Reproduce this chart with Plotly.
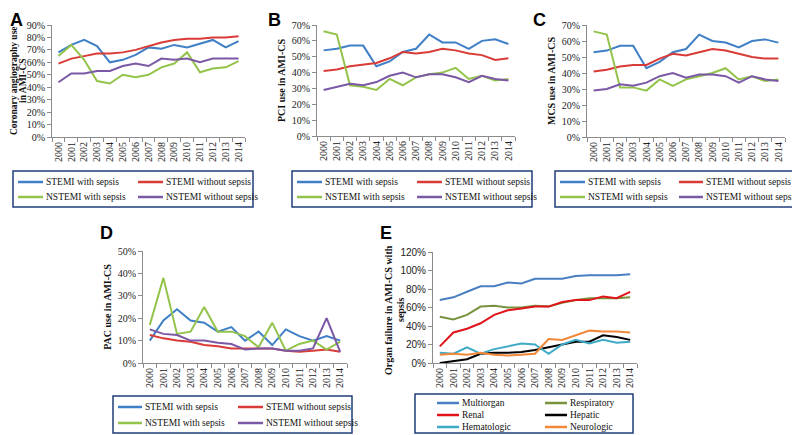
import plotly.graph_objects as go

years = [str(y) for y in range(2000, 2015)]

# A - coronary angiography
a_stemi_sep = [0.68, 0.74, 0.78, 0.73, 0.60, 0.62, 0.66, 0.72, 0.71, 0.74, 0.72, 0.75, 0.78, 0.72, 0.77]
a_stemi_nosep = [0.59, 0.63, 0.65, 0.67, 0.67, 0.68, 0.70, 0.73, 0.76, 0.78, 0.79, 0.79, 0.80, 0.80, 0.81]
a_nstemi_sep = [0.65, 0.74, 0.62, 0.45, 0.43, 0.50, 0.48, 0.50, 0.56, 0.59, 0.68, 0.52, 0.55, 0.56, 0.61]
a_nstemi_nosep = [0.44, 0.51, 0.51, 0.53, 0.53, 0.57, 0.59, 0.57, 0.63, 0.62, 0.63, 0.60, 0.63, 0.63, 0.63]

# B - PCI
b_stemi_sep = [0.54, 0.55, 0.57, 0.57, 0.44, 0.47, 0.53, 0.55, 0.64, 0.59, 0.59, 0.55, 0.60, 0.61, 0.58]
b_stemi_nosep = [0.41, 0.42, 0.44, 0.45, 0.46, 0.49, 0.53, 0.52, 0.53, 0.55, 0.54, 0.52, 0.51, 0.48, 0.49]
b_nstemi_sep = [0.66, 0.64, 0.32, 0.31, 0.29, 0.36, 0.32, 0.37, 0.39, 0.40, 0.43, 0.36, 0.38, 0.35, 0.36]
b_nstemi_nosep = [0.29, 0.31, 0.33, 0.32, 0.34, 0.38, 0.40, 0.37, 0.39, 0.39, 0.37, 0.34, 0.38, 0.36, 0.35]

# C - MCS
c_stemi_sep = [0.53, 0.54, 0.57, 0.57, 0.43, 0.47, 0.53, 0.55, 0.64, 0.60, 0.59, 0.56, 0.60, 0.61, 0.59]
c_stemi_nosep = [0.41, 0.42, 0.44, 0.45, 0.45, 0.49, 0.52, 0.51, 0.53, 0.55, 0.54, 0.52, 0.50, 0.49, 0.49]
c_nstemi_sep = [0.66, 0.64, 0.31, 0.31, 0.29, 0.36, 0.32, 0.36, 0.38, 0.40, 0.43, 0.36, 0.38, 0.35, 0.36]
c_nstemi_nosep = [0.29, 0.30, 0.33, 0.32, 0.34, 0.38, 0.40, 0.37, 0.39, 0.39, 0.38, 0.34, 0.38, 0.36, 0.35]

# D - PAC
d_stemi_sep = [0.10, 0.19, 0.24, 0.19, 0.18, 0.14, 0.16, 0.10, 0.14, 0.08, 0.15, 0.12, 0.10, 0.12, 0.10]
d_stemi_nosep = [0.125, 0.11, 0.10, 0.095, 0.08, 0.075, 0.065, 0.065, 0.065, 0.065, 0.055, 0.05, 0.055, 0.06, 0.05]
d_nstemi_sep = [0.17, 0.38, 0.13, 0.14, 0.25, 0.14, 0.14, 0.12, 0.07, 0.18, 0.055, 0.085, 0.10, 0.06, 0.095]
d_nstemi_nosep = [0.15, 0.13, 0.125, 0.10, 0.10, 0.09, 0.085, 0.06, 0.065, 0.065, 0.055, 0.055, 0.065, 0.20, 0.05]

# E - organ failure
e_multi = [0.68, 0.71, 0.77, 0.83, 0.83, 0.87, 0.86, 0.91, 0.91, 0.91, 0.94, 0.95, 0.95, 0.95, 0.96]
e_resp = [0.50, 0.47, 0.52, 0.61, 0.62, 0.60, 0.60, 0.62, 0.61, 0.65, 0.68, 0.70, 0.70, 0.70, 0.71]
e_renal = [0.18, 0.33, 0.37, 0.43, 0.52, 0.57, 0.59, 0.61, 0.61, 0.66, 0.68, 0.68, 0.72, 0.70, 0.77]
e_hepatic = [0.00, 0.02, 0.04, 0.10, 0.11, 0.11, 0.12, 0.14, 0.17, 0.20, 0.23, 0.23, 0.30, 0.28, 0.25]
e_hemat = [0.11, 0.10, 0.17, 0.10, 0.15, 0.18, 0.21, 0.20, 0.10, 0.20, 0.25, 0.21, 0.25, 0.22, 0.23]
e_neuro = [0.09, 0.10, 0.09, 0.11, 0.09, 0.08, 0.09, 0.10, 0.26, 0.25, 0.30, 0.35, 0.34, 0.34, 0.33]

group_names = ['STEMI with sepsis', 'STEMI without sepsis', 'NSTEMI with sepsis', 'NSTEMI without sepsis']
group_colors = ['#3F7FC6', '#D93B36', '#93C34A', '#7B58A6']
organ_names = ['Multiorgan', 'Respiratory', 'Renal', 'Hepatic', 'Hematologic', 'Neurologic']
organ_colors = ['#4A7FC1', '#77933C', '#E0141A', '#000000', '#3FAAC6', '#F0883A']

SERIF = 'Liberation Serif, Times New Roman, serif'
# la pagina deja 8px de margen en el body: la figura ocupa el resto de la ventana 800x435
OFF = 8
W, H = 800 - OFF, 435 - OFF


def px_x(p):
    return (p - OFF) / W


def px_y(p):
    return 1 - (p - OFF) / H


fig = go.Figure()

paneles = [
    ('', [a_stemi_sep, a_stemi_nosep, a_nstemi_sep, a_nstemi_nosep], group_names, group_colors),
    ('2', [b_stemi_sep, b_stemi_nosep, b_nstemi_sep, b_nstemi_nosep], group_names, group_colors),
    ('3', [c_stemi_sep, c_stemi_nosep, c_nstemi_sep, c_nstemi_nosep], group_names, group_colors),
    ('4', [d_stemi_sep, d_stemi_nosep, d_nstemi_sep, d_nstemi_nosep], group_names, group_colors),
    ('5', [e_multi, e_resp, e_renal, e_hepatic, e_hemat, e_neuro], organ_names, organ_colors),
]

for sfx, series, names, colors in paneles:
    for vals, name, col in zip(series, names, colors):
        fig.add_trace(go.Scatter(x=years, y=vals, mode='lines', name=name,
                                 line=dict(color=col, width=2),
                                 xaxis='x' + sfx, yaxis='y' + sfx, showlegend=False))

# dominios en pixeles de la ventana (titulo None = se pone como anotacion)
ejes = [
    ('', 52, 245, 25, 137, 0.9, 0.1, None, SERIF),
    ('2', 317, 515, 25, 136, 0.7, 0.1, '<b>PCI use in AMI-CS</b>', SERIF),
    ('3', 587, 785, 25, 137, 0.7, 0.1, '<b>MCS use in AMI-CS</b>', SERIF),
    ('4', 143, 347, 251, 363, 0.5, 0.1, '<b>PAC use in AMI-CS</b>', SERIF),
    ('5', 433, 637, 252, 363, 1.2, 0.2, None, 'Liberation Sans, Arial, sans-serif'),
]

layout = {}
for sfx, x0, x1, y0, y1, ymax, dt, title, tickfam in ejes:
    layout['xaxis' + sfx] = dict(
        domain=[px_x(x0), px_x(x1)], anchor='y' + sfx, type='category',
        range=[-0.5, 14.5], tickangle=-90, tickson='boundaries', ticks='outside',
        ticklen=4, tickcolor='#8C8C8C', showline=True, linecolor='#8C8C8C', linewidth=1,
        showgrid=False, zeroline=False, tickfont=dict(family=SERIF, size=10, color='#222'))
    layout['yaxis' + sfx] = dict(
        domain=[px_y(y1), px_y(y0)], anchor='x' + sfx, range=[0, ymax], dtick=dt,
        tickformat='.0%', ticks='outside', ticklen=4, tickcolor='#8C8C8C',
        showline=True, linecolor='#8C8C8C', linewidth=1, showgrid=False, zeroline=False,
        tickfont=dict(family=tickfam, size=10, color='#222'))
    if title:
        layout['yaxis' + sfx]['title'] = dict(text=title, standoff=4,
                                              font=dict(family=SERIF, size=10, color='#111'))

anotaciones = []

# titulos de dos lineas (A y E) colocados a mano
titulos = [
    ('<b>Coronary angiography use</b>', 14, 81, 9.5),
    ('<b>in AMI-CS</b>', 23, 81, 9.5),
    ('<b>Organ failure in AMI-CS with</b>', 388, 310, 10),
    ('<b>sepsis</b>', 400, 310, 10),
]
for t, tx, ty, fs in titulos:
    anotaciones.append(dict(text=t, x=px_x(tx), y=px_y(ty), xref='paper', yref='paper',
                            xanchor='center', yanchor='middle', textangle=-90, showarrow=False,
                            font=dict(family=SERIF, size=fs, color='#111')))

# leyendas dibujadas a mano: caja, filas y columnas (linea inicio, linea fin, texto)
leyendas = [
    ((13, 253, 171, 207), [182, 197], [(18, 43, 44), (138, 163, 164)], group_names, group_colors),
    ((292, 532, 171, 207), [182, 197], [(297, 322, 323), (417, 442, 443)], group_names, group_colors),
    ((555, 799, 171, 207), [182, 197], [(560, 585, 586), (679, 703, 704)], group_names, group_colors),
    ((113, 352, 396, 433), [407, 423], [(118, 142, 143), (238, 263, 264)], group_names, group_colors),
    ((415, 633, 394, 433), [403, 415, 427], [(437, 459, 460), (545, 567, 568)], organ_names, organ_colors),
]

shapes = []
for (bx0, bx1, by0, by1), filas, cols, names, colors in leyendas:
    shapes.append(dict(type='rect', xref='paper', yref='paper',
                       x0=px_x(bx0), x1=px_x(bx1), y0=px_y(by1), y1=px_y(by0),
                       line=dict(color='#1F3C78', width=1.5), fillcolor='rgba(0,0,0,0)'))
    for i, (name, col) in enumerate(zip(names, colors)):
        fy = filas[i // 2]
        lx0, lx1, tx = cols[i % 2]
        shapes.append(dict(type='line', xref='paper', yref='paper',
                           x0=px_x(lx0), x1=px_x(lx1), y0=px_y(fy), y1=px_y(fy),
                           line=dict(color=col, width=2.5)))
        anotaciones.append(dict(text=name, x=px_x(tx), y=px_y(fy), xref='paper', yref='paper',
                                xanchor='left', yanchor='middle', showarrow=False,
                                font=dict(family=SERIF, size=9.5, color='#111')))

letras = [('A', 8, 8), ('B', 266, 8), ('C', 531, 8), ('D', 98, 221), ('E', 378, 221)]
for t, lx, ly in letras:
    anotaciones.append(dict(text=f'<b>{t}</b>', x=px_x(lx), y=px_y(ly), xref='paper', yref='paper',
                            xanchor='left', yanchor='top', showarrow=False,
                            font=dict(family='Liberation Sans, Arial, sans-serif', size=18, color='black')))

fig.update_layout(width=W, height=H, margin=dict(l=0, r=0, t=0, b=0, autoexpand=False),
                  paper_bgcolor='white', plot_bgcolor='white',
                  annotations=anotaciones, shapes=shapes, **layout)

fig.write_html('out.html')
